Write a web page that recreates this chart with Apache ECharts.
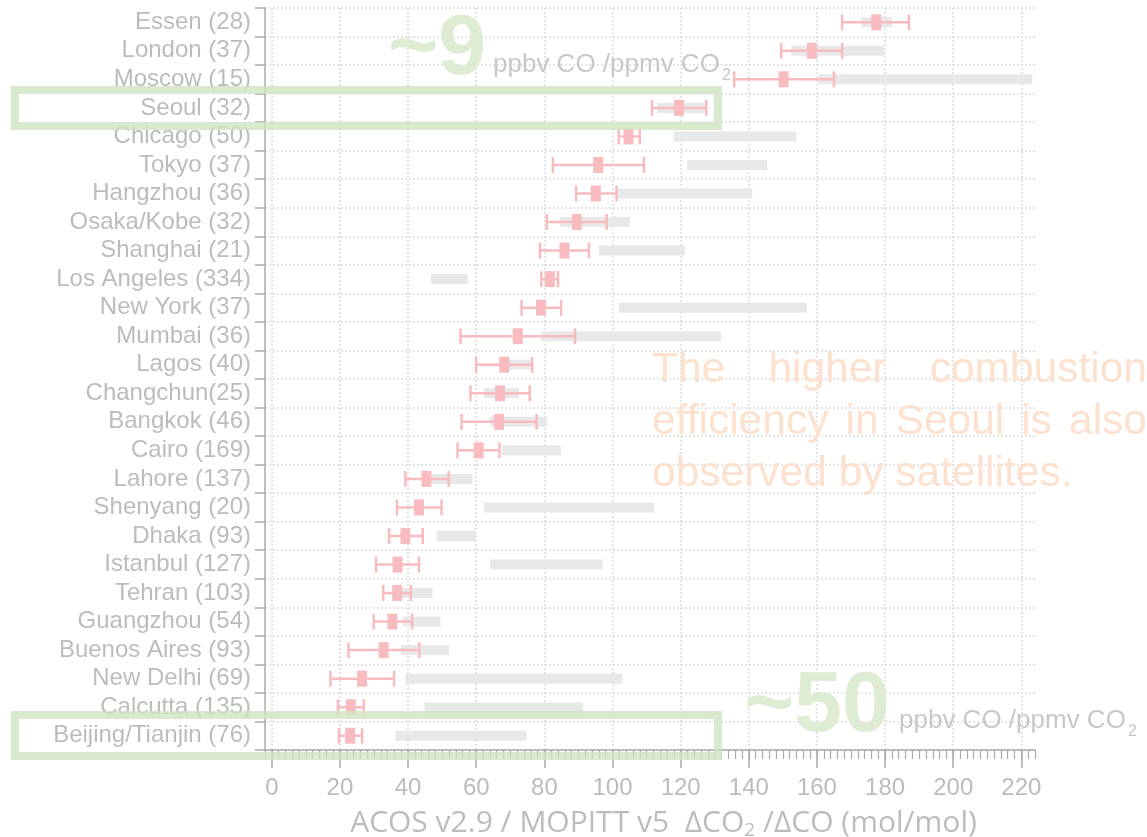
<!DOCTYPE html>
<html>
<head>
<meta charset="utf-8">
<script src="https://cdn.jsdelivr.net/npm/echarts@6/dist/echarts.min.js"></script>
<style>
html,body{margin:0;padding:0;background:#fff;}
#chart{width:1147px;height:837px;}
</style>
</head>
<body>
<div id="chart"></div>
<script>
const cities = ["Essen (28)","London (37)","Moscow (15)","Seoul (32)","Chicago (50)","Tokyo (37)","Hangzhou (36)","Osaka/Kobe (32)","Shanghai (21)","Los Angeles (334)","New York (37)","Mumbai (36)","Lagos (40)","Changchun(25)","Bangkok (46)","Cairo (169)","Lahore (137)","Shenyang (20)","Dhaka (93)","Istanbul (127)","Tehran (103)","Guangzhou (54)","Buenos Aires (93)","New Delhi (69)","Calcutta (135)","Beijing/Tianjin (76)"];
const ratio  = [177.4,158.5,150.2,119.5,104.7,95.8,95.1,89.5,85.9,81.6,79.0,72.2,68.2,67.0,66.7,60.7,45.4,43.2,39.2,36.9,36.8,35.4,32.8,26.5,23.2,23.0];
const errLo  = [167.4,149.5,135.7,111.6,101.8,82.5,89.3,80.7,78.7,79.1,73.3,55.4,60.0,58.3,55.7,54.5,39.2,36.7,34.4,30.6,32.7,29.9,22.5,17.2,19.4,19.7];
const errHi  = [187.0,167.4,165.0,127.5,108.0,109.2,101.2,98.3,93.1,84.0,84.9,89.0,76.4,75.7,77.7,66.8,51.9,49.8,44.3,43.2,40.8,41.2,43.3,35.9,27.0,26.5];
const rangeLo = [173.0,152.5,160.4,113.0,118.0,121.9,101.0,84.6,96.0,46.7,101.9,79.0,68.0,62.3,64.0,67.5,46.9,62.3,48.3,64.1,37.6,38.6,37.9,39.2,44.8,36.3];
const rangeHi = [182.0,179.7,223.2,127.0,154.0,145.4,141.0,105.1,121.3,57.5,157.0,131.8,76.0,72.5,80.8,84.8,58.9,112.3,59.8,97.0,47.2,49.5,52.0,102.9,91.3,74.8];
const xTicks = [0,20,40,60,80,100,120,140,160,180,200,220];
const noteLines = ["The higher combustion", "efficiency in Seoul is also", "observed by satellites."];

const rangeData = cities.map((c,i)=>[rangeLo[i], rangeHi[i], i]);
const errData = cities.map((c,i)=>[errLo[i], errHi[i], i]);
const ptData = cities.map((c,i)=>[ratio[i], i]);

const axisGray = '#ababab';
const labelGray = '#bcbcbc';
const pink = '#f8bcc0';

// justified note text (annotation)
const noteFont = '42.5px "Liberation Sans"';
const noteLeft = 652, noteRight = 1147, noteY = [370, 422, 474];
const ctx = document.createElement('canvas').getContext('2d');
ctx.font = noteFont;
const noteGraphics = [];
noteLines.forEach((line, li) => {
  const words = line.split(' ');
  if (li === noteLines.length - 1) {
    noteGraphics.push({type:'text', z:50, x:noteLeft, y:noteY[li], style:{text:line, font:noteFont, fill:'#fde1cf', align:'left', verticalAlign:'middle'}});
    return;
  }
  const widths = words.map(w => ctx.measureText(w).width);
  const total = widths.reduce((a,b)=>a+b,0);
  const gap = (noteRight - noteLeft - total) / (words.length - 1);
  let x = noteLeft;
  words.forEach((w, wi) => {
    noteGraphics.push({type:'text', z:50, x:x, y:noteY[li], style:{text:w, font:noteFont, fill:'#fde1cf', align:'left', verticalAlign:'middle'}});
    x += widths[wi] + gap;
  });
});

const chart = echarts.init(document.getElementById('chart'), null, {renderer:'canvas'});
chart.setOption({
  animation:false,
  backgroundColor:'#ffffff',
  grid:{left:265, right:112, top:8, bottom:87, containLabel:false, outerBoundsMode:'none'},
  xAxis:[{
    type:'value', min:-2, max:224, position:'bottom',
    axisLine:{show:true, onZero:false, lineStyle:{color:axisGray, width:1.5}},
    axisTick:{show:true, customValues:xTicks, length:18, lineStyle:{color:axisGray, width:1.5}},
    axisLabel:{show:true, customValues:xTicks, margin:26, fontSize:24, color:labelGray, fontFamily:'Liberation Sans'},
    splitLine:{show:true, lineStyle:{color:'#dcdcdc', type:[2,2], width:1.5}},
    name:'ACOS v2.9 / MOPITT v5  ΔCO{s|2} /ΔCO (mol/mol)',
    nameLocation:'middle', nameGap:57,
    nameTextStyle:{fontSize:30, color:labelGray, fontFamily:'Open Sans', padding:[0,0,0,27],
      rich:{s:{fontSize:19, color:labelGray, fontFamily:'Open Sans', padding:[14,0,0,0]}}}
  },{
    type:'value', min:-2, max:224, interval:2, position:'bottom',
    axisLine:{show:false},
    axisTick:{show:true, length:9, lineStyle:{color:axisGray, width:1.2}},
    axisLabel:{show:false},
    splitLine:{show:false}
  }],
  yAxis:{
    type:'category', data:cities, inverse:true,
    axisLine:{show:true, onZero:false, lineStyle:{color:axisGray, width:1.5}},
    axisTick:{show:true, length:10, lineStyle:{color:axisGray, width:1.5}},
    axisLabel:{interval:0, fontSize:24, color:labelGray, margin:14, fontFamily:'Liberation Sans'},
    splitLine:{show:true, lineStyle:{color:'#dcdcdc', type:[2,2], width:1.5}}
  },
  series:[{
    type:'custom', xAxisIndex:0, data:rangeData, z:2,
    encode:{x:[0,1], y:2},
    renderItem(params, api){
      const a = api.coord([api.value(0), api.value(2)]);
      const b = api.coord([api.value(1), api.value(2)]);
      return {type:'rect', shape:{x:a[0], y:a[1]-5, width:b[0]-a[0], height:10}, style:{fill:'#e8e8e8'}};
    }
  },{
    type:'custom', xAxisIndex:0, data:errData, z:3,
    encode:{x:[0,1], y:2},
    renderItem(params, api){
      const a = api.coord([api.value(0), api.value(2)]);
      const b = api.coord([api.value(1), api.value(2)]);
      const st = {stroke:pink, lineWidth:2.5};
      return {type:'group', children:[
        {type:'line', shape:{x1:a[0], y1:a[1], x2:b[0], y2:b[1]}, style:st},
        {type:'line', shape:{x1:a[0], y1:a[1]-8, x2:a[0], y2:a[1]+8}, style:st},
        {type:'line', shape:{x1:b[0], y1:b[1]-8, x2:b[0], y2:b[1]+8}, style:st}
      ]};
    }
  },{
    type:'scatter', xAxisIndex:0, data:ptData, z:4,
    symbol:'rect', symbolSize:[10,16],
    itemStyle:{color:pink, opacity:1}
  }],
  graphic:[
    {type:'rect', z:100, shape:{x:15, y:90, width:703, height:36}, style:{fill:'none', stroke:'#cfe3c0', lineWidth:8, opacity:0.8}},
    {type:'rect', z:100, shape:{x:15, y:715, width:703, height:41}, style:{fill:'none', stroke:'#cfe3c0', lineWidth:8, opacity:0.8}},
    {type:'text', z:50, x:388, y:93, style:{text:'~9', font:'bold 86px "Liberation Sans"', fill:'#ddecd3', align:'left', verticalAlign:'bottom'}},
    {type:'text', z:50, x:493, y:78, style:{text:'ppbv CO /ppmv CO', font:'26px "Liberation Sans"', fill:'#c8c8c8', align:'left', verticalAlign:'bottom'}},
    {type:'text', z:50, x:722, y:84, style:{text:'2', font:'16px "Liberation Sans"', fill:'#c8c8c8', align:'left', verticalAlign:'bottom'}},
    {type:'text', z:50, x:744, y:750, style:{text:'~50', font:'bold 86px "Liberation Sans"', fill:'#ddecd3', align:'left', verticalAlign:'bottom'}},
    {type:'text', z:50, x:899, y:734, style:{text:'ppbv CO /ppmv CO', font:'26px "Liberation Sans"', fill:'#c8c8c8', align:'left', verticalAlign:'bottom'}},
    {type:'text', z:50, x:1128, y:740, style:{text:'2', font:'16px "Liberation Sans"', fill:'#c8c8c8', align:'left', verticalAlign:'bottom'}}
  ].concat(noteGraphics)
});
</script>
</body>
</html>
